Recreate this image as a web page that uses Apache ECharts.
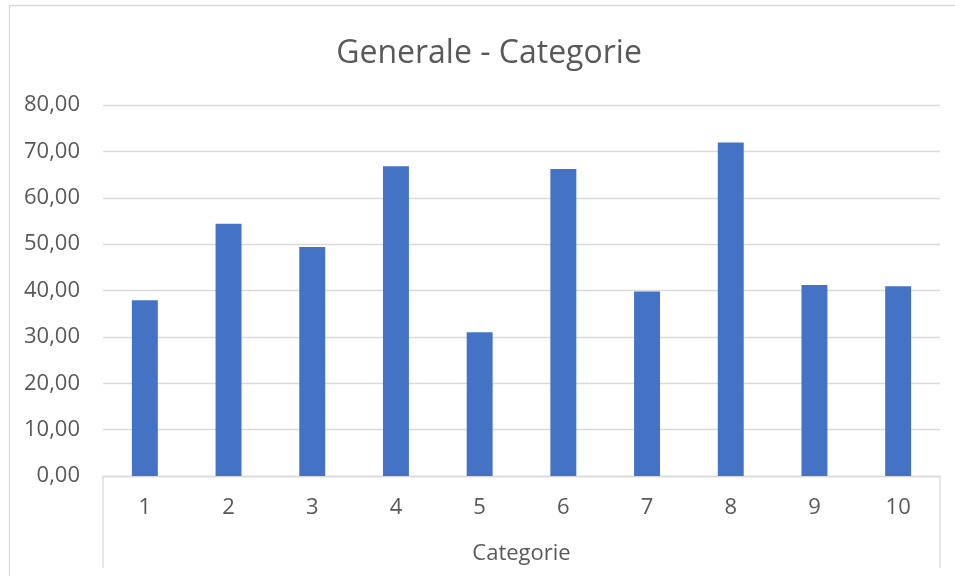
<!DOCTYPE html>
<html>
<head>
<meta charset="utf-8">
<script src="https://cdn.jsdelivr.net/npm/echarts@6/dist/echarts.min.js"></script>
<style>html,body{margin:0;padding:0;background:#fff;}#c{width:955px;height:576px;}</style>
</head>
<body>
<div id="c"></div>
<script>
const categories = ['1','2','3','4','5','6','7','8','9','10'];
const values = [37.9, 54.4, 49.4, 66.8, 31.0, 66.2, 39.8, 71.9, 41.2, 40.9];
const yTicks = { min: 0, max: 80, interval: 10 };
const titleText = 'Generale - Categorie';
const axisName = 'Categorie';

const FONT = '"Open Sans", sans-serif';
const grey = '#595959';
const lineCol = '#d9d9d9';
const G = { left: 103, right: 15, top: 105, bottom: 100 };
const W = 955, H = 576;
const axisY = H - G.bottom;

const chart = echarts.init(document.getElementById('c'), null, { renderer: 'canvas' });
chart.setOption({
  backgroundColor: '#fff',
  animation: false,
  title: {
    text: titleText, left: 484, top: 33, textAlign: 'center',
    textStyle: { fontFamily: FONT, fontSize: 32, fontWeight: 'normal', color: grey }
  },
  grid: G,
  xAxis: {
    type: 'category', data: categories,
    name: axisName, nameLocation: 'middle', nameGap: 67,
    nameTextStyle: { fontFamily: FONT, fontSize: 22, color: grey },
    axisLine: { show: true, lineStyle: { color: lineCol, width: 1.3 } },
    axisTick: { show: false },
    axisLabel: { fontFamily: FONT, fontSize: 22, color: grey, margin: 21 },
    splitLine: { show: false }
  },
  yAxis: {
    type: 'value', min: yTicks.min, max: yTicks.max, interval: yTicks.interval,
    axisLine: { show: false }, axisTick: { show: false },
    axisLabel: { fontFamily: FONT, fontSize: 22, color: grey, margin: 23,
      formatter: v => v.toFixed(2).replace('.', ',') },
    splitLine: { lineStyle: { color: lineCol, width: 1.3 } }
  },
  series: [{
    type: 'bar', data: values, barWidth: '31%',
    itemStyle: { color: '#4472C4' }
  }],
  graphic: [
    { type: 'line', shape: { x1: 9.5, y1: 5.5, x2: W, y2: 5.5 }, style: { stroke: lineCol, lineWidth: 1.3 } },
    { type: 'line', shape: { x1: 9.5, y1: 5.5, x2: 9.5, y2: H }, style: { stroke: lineCol, lineWidth: 1.3 } },
    { type: 'line', shape: { x1: G.left, y1: axisY, x2: G.left, y2: 568 }, style: { stroke: lineCol, lineWidth: 1.3 } },
    { type: 'line', shape: { x1: W - G.right, y1: axisY, x2: W - G.right, y2: 568 }, style: { stroke: lineCol, lineWidth: 1.3 } }
  ]
});
</script>
</body>
</html>
